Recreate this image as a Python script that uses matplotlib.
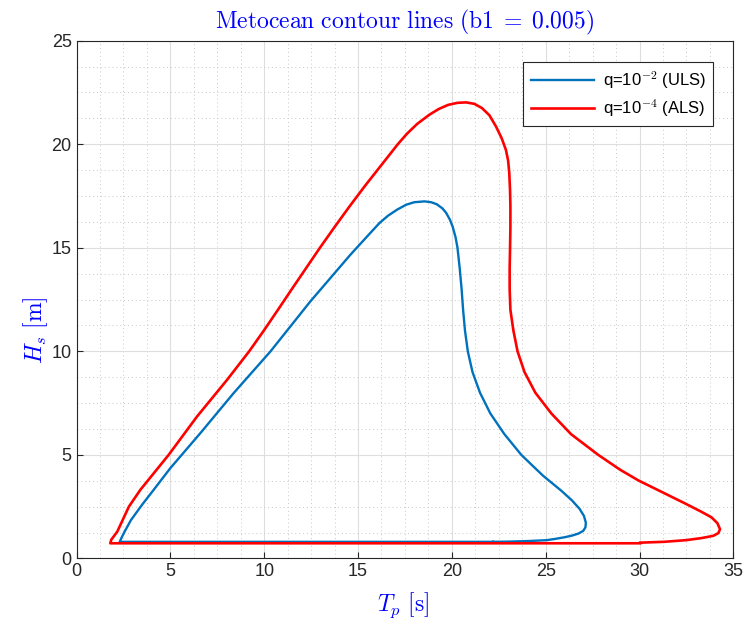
import matplotlib
matplotlib.use("Agg")
import matplotlib.pyplot as plt
from matplotlib.ticker import MultipleLocator

# contour q=1e-2 (ULS)
tp_uls = [22.2, 2.3, 2.4, 2.56, 2.9, 3.5, 4.11, 5.0, 6.6, 8.37, 10.33, 12.46,
          14.59, 15.65, 16.15, 16.6, 17.1, 17.57, 18.0, 18.54, 18.9, 19.2,
          19.5, 19.7, 19.9, 20.05, 20.2, 20.3, 20.42, 20.52, 20.6, 20.7,
          20.85, 21.1, 21.5, 22.05, 22.8, 23.7, 24.85, 25.83, 26.4, 26.8,
          27.04, 27.14, 27.12, 27.0, 26.75, 26.4, 26.0, 25.5, 25.05, 24.14,
          23.0, 22.2]
hs_uls = [0.8, 0.8, 1.0, 1.29, 1.85, 2.6, 3.31, 4.36, 6.05, 7.98, 9.99, 12.41,
          14.66, 15.71, 16.2, 16.55, 16.85, 17.08, 17.2, 17.24, 17.2, 17.1,
          16.9, 16.68, 16.35, 16.0, 15.5, 15.0, 14.0, 13.0, 12.0, 11.0,
          10.0, 9.0, 8.0, 7.0, 6.0, 5.0, 4.0, 3.27, 2.8, 2.4,
          2.05, 1.73, 1.5, 1.33, 1.2, 1.1, 1.02, 0.94, 0.88, 0.84,
          0.81, 0.8]

# contour q=1e-4 (ALS)
tp_als = [30.04, 1.8, 1.85, 2.17, 2.79, 3.4, 4.91, 6.42, 8.02, 9.2, 9.98,
          10.73, 11.47, 12.22, 12.97, 13.75, 14.55, 15.38, 16.25, 17.12, 17.6,
          18.15, 18.81, 19.3, 19.8, 20.3, 20.76, 21.2, 21.6, 22.0, 22.35,
          22.65, 22.88, 23.0, 23.06, 23.1, 23.12, 23.12, 23.1, 23.08, 23.08,
          23.12, 23.28, 23.5, 23.87, 24.45, 25.3, 26.35, 27.8, 28.97, 29.95,
          31.25, 32.48, 33.3, 33.84, 34.15, 34.29, 34.2, 33.93, 33.3, 32.48,
          31.3, 30.04]
hs_als = [0.73, 0.73, 0.9, 1.29, 2.5, 3.31, 5.0, 6.85, 8.62, 10.0, 11.0,
          12.0, 13.0, 14.0, 15.0, 16.0, 17.0, 18.0, 19.0, 20.0, 20.5,
          20.98, 21.43, 21.7, 21.9, 22.0, 22.02, 21.95, 21.75, 21.4, 20.86,
          20.3, 19.73, 19.2, 18.6, 17.8, 17.0, 16.0, 14.9, 14.0, 13.0,
          12.0, 11.0, 10.0, 9.0, 8.0, 7.0, 6.0, 5.0, 4.28, 3.76,
          3.18, 2.63, 2.25, 1.98, 1.7, 1.41, 1.22, 1.09, 0.98, 0.88,
          0.8, 0.76]

plt.rcParams['mathtext.fontset'] = 'cm'
plt.rcParams['font.family'] = 'Liberation Sans'

fig = plt.figure(figsize=(7.43, 6.26), dpi=100)
ax = fig.add_axes([0.103, 0.108, 0.884, 0.827])

ax.plot(tp_uls, hs_uls, color='#0072BD', lw=1.7, label=r'q=10$^{-2}$ (ULS)')
ax.plot(tp_als, hs_als, color='#FF0000', lw=1.9, label=r'q=10$^{-4}$ (ALS)')

ax.set_xlim(0, 35)
ax.set_ylim(0, 25)
ax.xaxis.set_major_locator(MultipleLocator(5))
ax.yaxis.set_major_locator(MultipleLocator(5))
ax.xaxis.set_minor_locator(MultipleLocator(1.25))
ax.yaxis.set_minor_locator(MultipleLocator(1.25))
ax.grid(which='major', color='#dedede', lw=0.8)
ax.grid(which='minor', color='#c8c8c8', lw=0.7, linestyle=(0, (1, 3)))
ax.set_axisbelow(True)
ax.tick_params(which='major', direction='in', length=4, labelsize=13,
               colors='#262626', width=0.8)
ax.tick_params(which='minor', length=0)
for s in ax.spines.values():
    s.set_color('#262626')
    s.set_linewidth(0.8)

ax.set_title(r'$\mathrm{Metocean\ contour\ lines\ (b1\;=\;0.005)}$',
             color='blue', fontsize=17, pad=9)
ax.set_xlabel(r'$T_p\ [\mathrm{s}]$', color='blue', fontsize=17, va='center')
ax.set_ylabel(r'$H_s\ [\mathrm{m}]$', color='blue', fontsize=17, va='center')
ax.xaxis.set_label_coords(0.497, -0.09)
ax.yaxis.set_label_coords(-0.063, 0.44)

leg = ax.legend(loc='upper right', fontsize=12, fancybox=False, framealpha=1,
                edgecolor='#262626', handlelength=3.8, borderpad=0.45,
                handletextpad=0.5, labelspacing=0.35, borderaxespad=0,
                bbox_to_anchor=(0.9695, 0.959))
leg.get_frame().set_linewidth(0.8)

fig.savefig('out.png', dpi=100)
